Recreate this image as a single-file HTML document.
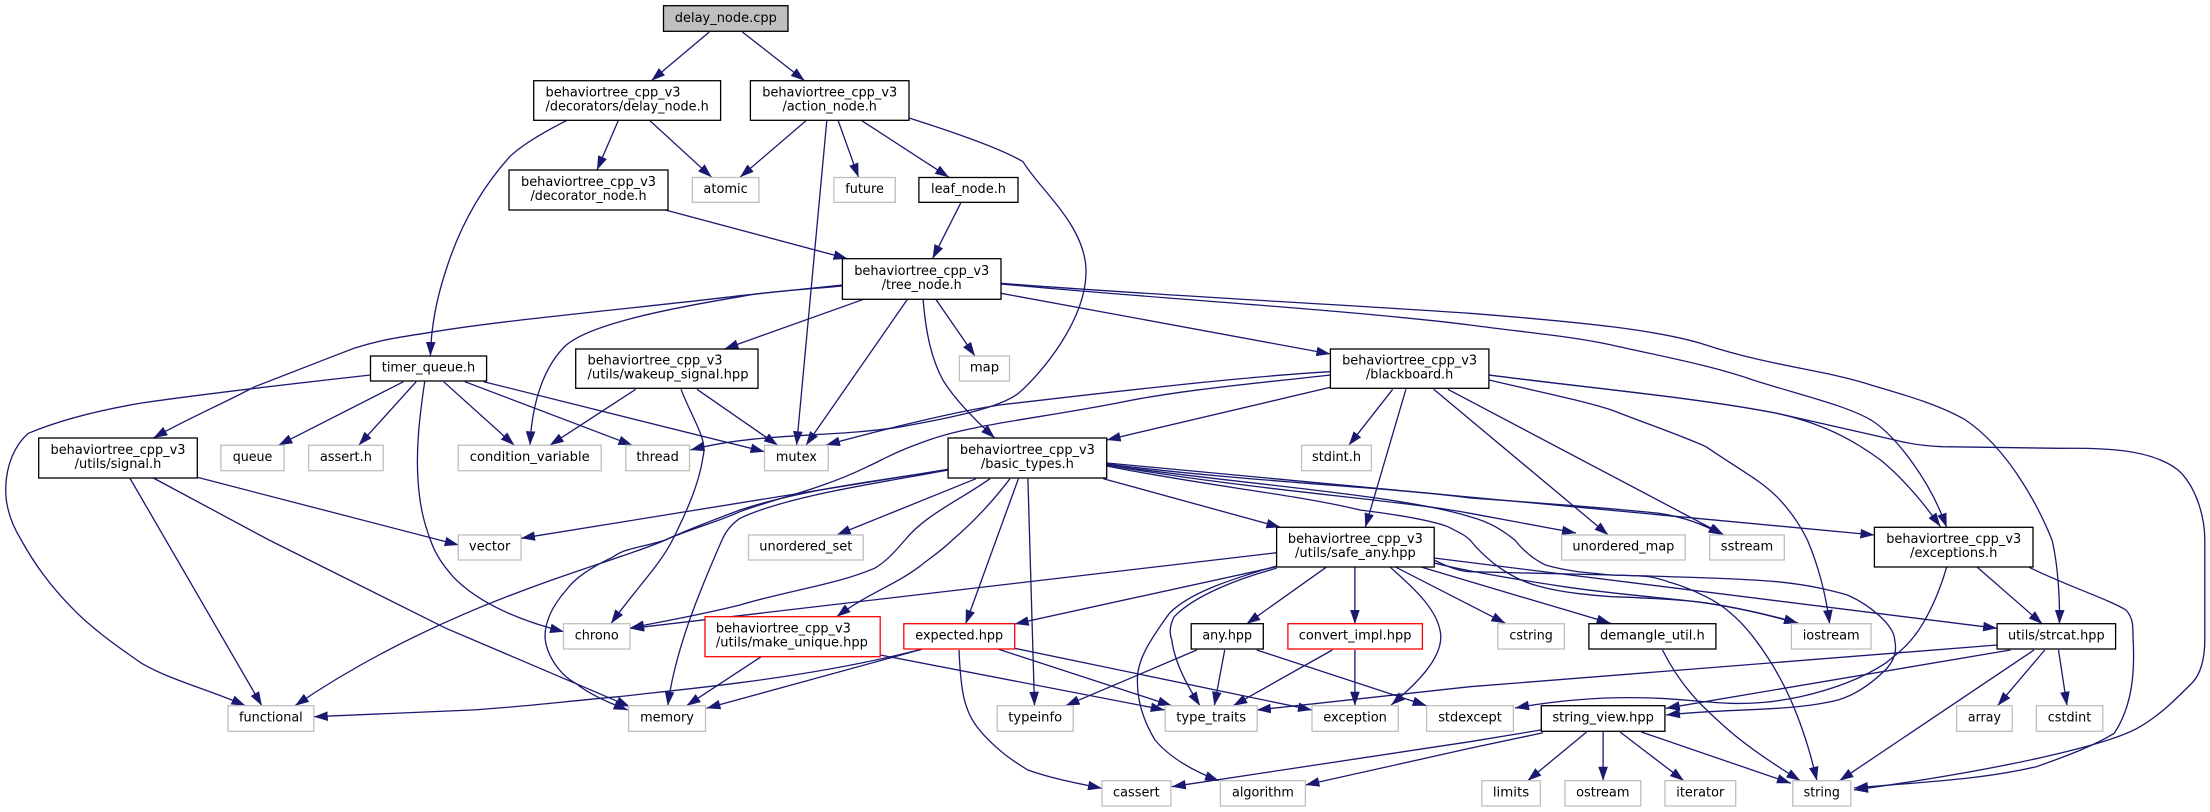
<!DOCTYPE html>
<html><head><meta charset="utf-8"><title>delay_node.cpp</title>
<style>
html,body{margin:0;padding:0;background:#fff}
svg{display:block}
text{font-family:"DejaVu Sans","Liberation Sans",sans-serif;font-size:13px;fill:#000;text-anchor:middle}
text.s{text-anchor:start}
.e path{fill:none;stroke:#191970;stroke-width:1.3;marker-end:url(#a)}
rect{fill:#fff;stroke-width:1.3}
.k rect{stroke:#000}
.g rect{stroke:#bfbfbf}
.r rect{stroke:#f00}
</style></head><body>
<svg width="2210" height="812" viewBox="0 0 2210 812" xmlns="http://www.w3.org/2000/svg">
<defs><marker id="a" markerUnits="userSpaceOnUse" markerWidth="14" markerHeight="10" viewBox="0 0 14 10" refX="14" refY="5" orient="auto"><path d="M0,0.2L14,5L0,9.8z" fill="#191970"/></marker></defs>
<g class="e">
<path d="M709.3,32L651.3,80.7"/>
<path d="M742.4,32L804.7,80.7"/>
<path d="M566.3,120.7C540,134 522,145 509.7,156.7C478,192 458,232 446,270C436,300 431,330 430.4,356"/>
<path d="M618.2,120.7L597,170"/>
<path d="M649.9,120.7L711.7,177.3"/>
<path d="M806,120.7L740,177.3"/>
<path d="M826.8,120.7L796.6,445.3"/>
<path d="M838.2,120.7L858.5,177.3"/>
<path d="M861.8,120.7L949,177.3"/>
<path d="M909,118C950,131 1000,148 1023,161.7C1040,190 1085,225 1086,270C1087,320 1040,375 1018.4,393.3C1000,408 950,418 900,427C830,438 760,432 690.4,450"/>
<path d="M960.9,202.7L932.5,258.7"/>
<path d="M665.4,210L847.6,258.7"/>
<path d="M842.4,285L740,295.7C640,308 500,320 424.7,333.3C400,337 380,340 354,348.3C310,365 260,385 254.8,386.7C220,405 185,420 153.4,438"/>
<path d="M842.4,286C800,290 770,291 740,296.7C660,310 590,325 566.3,345C545,365 532,400 530,445.3"/>
<path d="M863.6,299.3L724.4,349"/>
<path d="M907.5,299.3L806,445.3"/>
<path d="M923.1,299.3C926,335 932,360 942.9,380C955,400 975,420 994.8,438"/>
<path d="M935.8,299.3L975,356"/>
<path d="M1001,293.3L1330.4,354"/>
<path d="M1001,283.3C1150,295 1350,305 1470,313.3C1580,322 1660,330 1706,345C1770,366 1825,370 1871,385C1905,395 1940,405 1965.5,420C2010,450 2040,510 2052,540C2058,565 2060,600 2059.4,624"/>
<path d="M1001,284C1150,298 1350,310 1470,325C1530,333 1570,336 1611.6,345C1660,356 1710,365 1753,380C1800,395 1845,405 1871,420C1895,435 1930,480 1946.6,527.3"/>
<path d="M1489,375C1580,387 1700,398 1776.8,413.3C1830,425 1860,445 1880.6,460C1905,480 1925,505 1940.5,526.7"/>
<path d="M1489,375C1580,387 1700,398 1776.8,413.3C1820,423 1860,432 1894.7,440C1910,444 1925,446 1942,446.7L2060,448.3C2100,448 2150,448 2178,470C2195,485 2204.8,515 2204.8,540L2204.8,640C2204.8,660 2200,675 2192,683C2175,700 2160,715 2140,726.7C2110,745 2000,770 1854,790"/>
<path d="M1489,380C1540,392 1580,400 1611.6,410C1650,425 1680,435 1706,446.7C1740,470 1760,480 1776.8,496.7C1790,510 1800,525 1807.4,540C1818,565 1826,595 1829.6,624"/>
<path d="M1447.9,389.3L1724,535"/>
<path d="M1433.7,389.3L1608.3,535"/>
<path d="M1392.7,389.3L1348.8,445.3"/>
<path d="M1405.9,389.3L1365.3,527.3"/>
<path d="M1330.4,387.3L1106.7,440"/>
<path d="M1330.4,371.7C1250,376 1110,392 999.6,405C960,411 900,425 826,445"/>
<path d="M1330.4,375C1250,384 1180,390 1117.5,403C1040,418 970,425 928.8,440C895,452 890,456 867.4,466.7C820,490 770,500 740,511.7C715,523 690,529 665.4,540C640,548 625,548 613.5,556.7C590,568 575,578 566.3,590C553,605 545,620 545,636.7C546,655 560,675 575.7,683.3C590,695 610,703 627.7,710"/>
<path d="M948.1,469.3L521,538.3"/>
<path d="M948.1,470C880,480 800,490 740,510C700,525 680,533 665.4,540C610,565 450,600 295,705.7"/>
<path d="M948.1,470C880,483 790,495 740,518.3C730,525 725,533 722,540C700,590 675,650 667.8,705.7"/>
<path d="M990,478.7C960,500 925,515 905,540C892,555 885,562 874.5,568.3C835,585 790,590 740,605C700,615 670,620 630,628"/>
<path d="M1276.6,552.7L630,628.5"/>
<path d="M1010,478.7C990,505 970,525 952.4,540C940,552 930,558 919.3,566.7C895,585 865,595 836.7,616.7"/>
<path d="M1018.4,478.7L965.6,624"/>
<path d="M1027.9,478.7L1034.5,705.7"/>
<path d="M976,478.7L836.7,535"/>
<path d="M1106.7,463L1874.4,535"/>
<path d="M1106.7,464C1250,482 1400,488 1470,498C1540,503 1620,509 1658.8,513.3C1685,517 1705,525 1722.5,535"/>
<path d="M1106.7,465C1250,490 1400,500 1470,513.3L1576,533"/>
<path d="M1103.4,478.7L1280.4,527.3"/>
<path d="M1106.7,465C1250,485 1400,495 1470,516.7C1490,522 1502,530 1514.8,540C1525,553 1535,560 1545.5,565C1570,572 1590,573 1611.6,575C1640,576 1650,575 1668,581.7C1680,585 1693,590 1706,596.7C1725,606 1740,620 1753,636.7C1775,665 1790,695 1800,723C1808,745 1812,760 1816.9,780.7"/>
<path d="M1106.7,466C1200,485 1300,495 1360,510C1400,515 1430,520 1447.9,526.7C1460,533 1465,535 1470,540C1478,550 1485,556 1493.6,563.3C1510,576 1525,583 1540.8,586.7C1565,593 1590,595 1611.6,596.7C1650,598 1680,600 1696.5,601.7C1730,606 1765,614 1798,623.3"/>
<path d="M1434,560C1450,568 1460,571 1470,571.7L1611.6,575C1680,577 1730,578 1776.8,581.7C1810,585 1830,590 1847.5,595C1870,605 1894,625 1894.7,640C1897,650 1895,660 1885.3,670C1870,685 1855,695 1838,700C1790,712 1730,708 1666,715"/>
<path d="M1434,563C1470,572 1520,580 1564,586.7C1620,595 1670,598 1706,603C1740,608 1770,615 1798,623"/>
<path d="M1434,558L1997.1,628.3"/>
<path d="M1421.9,567.3L1610.6,623.3"/>
<path d="M1396,567.3L1505.4,623.3"/>
<path d="M1390.3,567.3C1410,585 1440,610 1440.8,636.7C1441,660 1415,685 1391.2,705"/>
<path d="M1354.9,567.3L1354.9,624"/>
<path d="M1326.1,567.3L1246.4,624"/>
<path d="M1276.6,566.7L1014.7,624"/>
<path d="M1276.6,568.3C1240,578 1195,595 1174.2,616.7C1170,625 1169,632 1171.8,640C1175,665 1190,690 1200,705.7"/>
<path d="M1276.6,566C1235,578 1190,592 1169.4,613.3C1150,640 1137,660 1137.4,680C1137,700 1143,720 1155,740C1170,758 1195,772 1219,780.7"/>
<path d="M1196.8,650L1065.6,705.7"/>
<path d="M1224.7,650L1214.3,705.7"/>
<path d="M1256.8,650L1426.6,705.7"/>
<path d="M1332.3,650L1233.2,705.7"/>
<path d="M1354.9,650L1354.9,705.7"/>
<path d="M998.6,649.3L1171.8,705.7"/>
<path d="M1014.7,648.3L1312,710"/>
<path d="M959,650C960,675 962,695 966.5,706.7C970,718 977,728 985.4,736.7C1000,752 1013,761 1027.9,770C1050,778 1075,783 1102,788.3"/>
<path d="M921.7,649.3C860,665 800,675 740,682.7C700,688 660,692 618.2,696.7C560,702 520,707 471.9,710C410,713 360,715 313.8,716.7"/>
<path d="M921.7,649.3L706.5,708.3"/>
<path d="M761.2,656.7L686.6,705.7"/>
<path d="M880.2,655L1164.7,710"/>
<path d="M129.8,478L261.9,705.7"/>
<path d="M153.4,478L269,540L446,628.3L630,706.7"/>
<path d="M197.3,477.3L458.7,545"/>
<path d="M370.5,375C290,384 190,396 141.6,403C100,410 60,420 28.3,433.3C15,445 5.7,465 5.7,490C5.7,508 12,525 21.2,540C35,565 50,585 70.8,606.7C90,627 115,645 141.6,663.3C170,680 210,690 245.4,705.7"/>
<path d="M403.5,381.7L278.4,445.3"/>
<path d="M416.2,381.7L358.7,445.3"/>
<path d="M424.7,381.7C419,420 416,450 418,480C420,510 425,525 430.4,540C436,556 444,566 453,576.7C480,605 525,622 564,631.7"/>
<path d="M443.6,381.7L514.4,445.3"/>
<path d="M464.8,381.7L632.4,445.3"/>
<path d="M483.7,381.7L764.5,451.7"/>
<path d="M635.7,389.3L549.8,445.3"/>
<path d="M681,389.3C693,420 708,440 703,456.7C699,485 685,515 672.5,540C660,565 635,590 611,623.5"/>
<path d="M697,389.3L777.8,445.3"/>
<path d="M1977.3,567.3L2042.4,624"/>
<path d="M1946.6,567.3C1940,590 1932,608 1923,623.3C1912,642 1900,652 1885.3,663.3C1860,680 1830,690 1800.3,696.7C1775,702 1755,704 1729.6,703.3C1700,702 1680,699 1658.8,698.3C1610,696 1565,699 1515,708"/>
<path d="M2029.2,567.3C2065,585 2110,600 2126,610C2133,618 2133,625 2133,636.7C2135,670 2133,705 2114.2,733.3C2095,745 2070,755 2036.3,766.7C1980,780 1920,782 1854,788"/>
<path d="M1997.1,645L1470,686.7L1256.8,710"/>
<path d="M2010.4,650L1665.8,708.3"/>
<path d="M2034,650L1839.5,780.7"/>
<path d="M2044.8,650L1997.6,705.7"/>
<path d="M2058.5,650L2067,705.7"/>
<path d="M1662.5,650C1680,685 1700,705 1724.8,726.7C1745,745 1775,765 1800.3,780.7"/>
<path d="M1540.8,730L1470,741.7L1171.8,786.7"/>
<path d="M1543.1,732.7L1470,748.3L1305.4,785"/>
<path d="M1586.6,732L1527.6,780.7"/>
<path d="M1603.1,732L1603.1,780.7"/>
<path d="M1620.1,732L1683.8,780.7"/>
<path d="M1641.3,732L1790.9,783.3"/>
</g>
<g class="k">
<rect x="663.5" y="5.7" width="124.5" height="25.6" style="fill:#bfbfbf"/><text x="725.8" y="21.8" textLength="102" lengthAdjust="spacingAndGlyphs">delay_node.cpp</text>
<rect x="533.7" y="80.7" width="186.9" height="39.6"/><text class="s" x="545.5" y="96.5" textLength="135" lengthAdjust="spacingAndGlyphs">behaviortree_cpp_v3</text><text class="s" x="545.5" y="110.5" textLength="163.3" lengthAdjust="spacingAndGlyphs">/decorators/delay_node.h</text>
<rect x="750.4" y="80.7" width="158.6" height="39.6"/><text x="829.7" y="96.5" textLength="135" lengthAdjust="spacingAndGlyphs">behaviortree_cpp_v3</text><text x="829.7" y="110.5" textLength="94.4" lengthAdjust="spacingAndGlyphs">/action_node.h</text>
<rect x="509" y="170" width="159" height="40"/><text x="588.5" y="186" textLength="135" lengthAdjust="spacingAndGlyphs">behaviortree_cpp_v3</text><text x="588.5" y="200" textLength="116" lengthAdjust="spacingAndGlyphs">/decorator_node.h</text>
<rect x="918.9" y="177.5" width="99.1" height="24.8"/><text x="968.5" y="193" textLength="75" lengthAdjust="spacingAndGlyphs">leaf_node.h</text>
<rect x="842.4" y="258.7" width="158.6" height="40.6"/><text x="921.7" y="275" textLength="135" lengthAdjust="spacingAndGlyphs">behaviortree_cpp_v3</text><text x="921.7" y="289" textLength="80" lengthAdjust="spacingAndGlyphs">/tree_node.h</text>
<rect x="370.5" y="356" width="116.1" height="25"/><text x="428.5" y="371.5" textLength="93.4" lengthAdjust="spacingAndGlyphs">timer_queue.h</text>
<rect x="575.7" y="349" width="182.3" height="39.3"/><text class="s" x="587.5" y="364.5" textLength="135" lengthAdjust="spacingAndGlyphs">behaviortree_cpp_v3</text><text class="s" x="587.5" y="378.5" textLength="161" lengthAdjust="spacingAndGlyphs">/utils/wakeup_signal.hpp</text>
<rect x="1330.4" y="349" width="158.5" height="39.3"/><text x="1409.6" y="364.5" textLength="135" lengthAdjust="spacingAndGlyphs">behaviortree_cpp_v3</text><text x="1409.6" y="378.5" textLength="87.3" lengthAdjust="spacingAndGlyphs">/blackboard.h</text>
<rect x="38.7" y="438" width="158.6" height="40"/><text x="118" y="454" textLength="135" lengthAdjust="spacingAndGlyphs">behaviortree_cpp_v3</text><text x="118" y="468" textLength="86.8" lengthAdjust="spacingAndGlyphs">/utils/signal.h</text>
<rect x="948.1" y="438" width="158.6" height="40"/><text x="1027.4" y="454" textLength="135" lengthAdjust="spacingAndGlyphs">behaviortree_cpp_v3</text><text x="1027.4" y="468" textLength="93" lengthAdjust="spacingAndGlyphs">/basic_types.h</text>
<rect x="1276.6" y="527.3" width="157.6" height="39.7"/><text x="1355.4" y="543" textLength="135" lengthAdjust="spacingAndGlyphs">behaviortree_cpp_v3</text><text x="1355.4" y="557" textLength="120.8" lengthAdjust="spacingAndGlyphs">/utils/safe_any.hpp</text>
<rect x="1874.4" y="527.3" width="158.6" height="39.7"/><text x="1953.7" y="543" textLength="135" lengthAdjust="spacingAndGlyphs">behaviortree_cpp_v3</text><text x="1953.7" y="557" textLength="87.3" lengthAdjust="spacingAndGlyphs">/exceptions.h</text>
<rect x="1191.2" y="623.7" width="72.1" height="25.3"/><text x="1227.2" y="639.5" textLength="49.6" lengthAdjust="spacingAndGlyphs">any.hpp</text>
<rect x="1588.9" y="623.7" width="127" height="25.3"/><text x="1652.4" y="639.5" textLength="104.8" lengthAdjust="spacingAndGlyphs">demangle_util.h</text>
<rect x="1997.1" y="623.7" width="118.5" height="25.3"/><text x="2056.3" y="639.5" textLength="96.7" lengthAdjust="spacingAndGlyphs">utils/strcat.hpp</text>
<rect x="1541.3" y="705.7" width="123.6" height="25.6"/><text x="1603.1" y="721.5" textLength="101.5" lengthAdjust="spacingAndGlyphs">string_view.hpp</text>
</g>
<g class="r">
<rect x="705" y="616.7" width="175.2" height="40"/><text class="s" x="715.9" y="632.5" textLength="135" lengthAdjust="spacingAndGlyphs">behaviortree_cpp_v3</text><text class="s" x="715.9" y="646.5" textLength="152" lengthAdjust="spacingAndGlyphs">/utils/make_unique.hpp</text>
<rect x="903.8" y="623.7" width="110.9" height="25.3"/><text x="959.2" y="639.5" textLength="87.8" lengthAdjust="spacingAndGlyphs">expected.hpp</text>
<rect x="1287.9" y="623.7" width="134.5" height="25.3"/><text x="1355.1" y="639.5" textLength="112.8" lengthAdjust="spacingAndGlyphs">convert_impl.hpp</text>
</g>
<g class="g">
<rect x="692.3" y="177.5" width="66.6" height="24.8"/><text x="725.6" y="193" textLength="44.4" lengthAdjust="spacingAndGlyphs">atomic</text>
<rect x="833.9" y="177.5" width="61.4" height="24.8"/><text x="864.6" y="193" textLength="38.7" lengthAdjust="spacingAndGlyphs">future</text>
<rect x="959.4" y="356" width="50.1" height="25"/><text x="984.5" y="371.5" textLength="29.3" lengthAdjust="spacingAndGlyphs">map</text>
<rect x="220.9" y="445.3" width="63.2" height="25.4"/><text x="252.5" y="461" textLength="39.6" lengthAdjust="spacingAndGlyphs">queue</text>
<rect x="308.6" y="445.3" width="74.6" height="25.4"/><text x="345.9" y="461" textLength="52" lengthAdjust="spacingAndGlyphs">assert.h</text>
<rect x="458.2" y="445.3" width="143" height="25.4"/><text x="529.7" y="461" textLength="119.9" lengthAdjust="spacingAndGlyphs">condition_variable</text>
<rect x="625.8" y="445.3" width="63.7" height="25.4"/><text x="657.6" y="461" textLength="42.5" lengthAdjust="spacingAndGlyphs">thread</text>
<rect x="764.5" y="445.3" width="63.7" height="25.4"/><text x="796.4" y="461" textLength="41" lengthAdjust="spacingAndGlyphs">mutex</text>
<rect x="1301.6" y="445.3" width="69.8" height="25.4"/><text x="1336.5" y="461" textLength="49" lengthAdjust="spacingAndGlyphs">stdint.h</text>
<rect x="458.2" y="535" width="62.8" height="25"/><text x="489.6" y="550.5" textLength="41.5" lengthAdjust="spacingAndGlyphs">vector</text>
<rect x="748.5" y="535" width="114.7" height="25"/><text x="805.8" y="550.5" textLength="93" lengthAdjust="spacingAndGlyphs">unordered_set</text>
<rect x="1561.6" y="535" width="123.6" height="25"/><text x="1623.4" y="550.5" textLength="102" lengthAdjust="spacingAndGlyphs">unordered_map</text>
<rect x="1709.7" y="535" width="74.6" height="25"/><text x="1747" y="550.5" textLength="52.4" lengthAdjust="spacingAndGlyphs">sstream</text>
<rect x="563.5" y="623.7" width="66.5" height="25.3"/><text x="596.7" y="639.5" textLength="43.9" lengthAdjust="spacingAndGlyphs">chrono</text>
<rect x="1497.8" y="623.7" width="66.6" height="25.3"/><text x="1531.1" y="639.5" textLength="43.4" lengthAdjust="spacingAndGlyphs">cstring</text>
<rect x="1791.4" y="623.7" width="79.7" height="25.3"/><text x="1831.2" y="639.5" textLength="57" lengthAdjust="spacingAndGlyphs">iostream</text>
<rect x="228" y="705.7" width="85.8" height="25.6"/><text x="270.9" y="721.5" textLength="63.7" lengthAdjust="spacingAndGlyphs">functional</text>
<rect x="628.6" y="705.7" width="76.9" height="25.6"/><text x="667" y="721.5" textLength="53.8" lengthAdjust="spacingAndGlyphs">memory</text>
<rect x="997.2" y="705.7" width="76" height="25.6"/><text x="1035.2" y="721.5" textLength="53.8" lengthAdjust="spacingAndGlyphs">typeinfo</text>
<rect x="1165.2" y="705.7" width="92" height="25.6"/><text x="1211.2" y="721.5" textLength="69.8" lengthAdjust="spacingAndGlyphs">type_traits</text>
<rect x="1312" y="705.7" width="86.3" height="25.6"/><text x="1355.1" y="721.5" textLength="63.7" lengthAdjust="spacingAndGlyphs">exception</text>
<rect x="1426.6" y="705.7" width="86.8" height="25.6"/><text x="1470" y="721.5" textLength="63.6" lengthAdjust="spacingAndGlyphs">stdexcept</text>
<rect x="1956.6" y="705.7" width="55.6" height="25.6"/><text x="1984.4" y="721.5" textLength="33" lengthAdjust="spacingAndGlyphs">array</text>
<rect x="2036.3" y="705.7" width="66.5" height="25.6"/><text x="2069.5" y="721.5" textLength="43.4" lengthAdjust="spacingAndGlyphs">cstdint</text>
<rect x="1102" y="780.7" width="68.9" height="25.3"/><text x="1136.4" y="796.5" textLength="46.7" lengthAdjust="spacingAndGlyphs">cassert</text>
<rect x="1220.4" y="780.7" width="85" height="25.3"/><text x="1262.9" y="796.5" textLength="61.8" lengthAdjust="spacingAndGlyphs">algorithm</text>
<rect x="1481.8" y="780.7" width="58.5" height="25.3"/><text x="1511" y="796.5" textLength="36.3" lengthAdjust="spacingAndGlyphs">limits</text>
<rect x="1564.9" y="780.7" width="75.9" height="25.3"/><text x="1602.8" y="796.5" textLength="53.3" lengthAdjust="spacingAndGlyphs">ostream</text>
<rect x="1664.9" y="780.7" width="70.8" height="25.3"/><text x="1700.3" y="796.5" textLength="48" lengthAdjust="spacingAndGlyphs">iterator</text>
<rect x="1792.8" y="780.7" width="58" height="25.3"/><text x="1821.8" y="796.5" textLength="36.3" lengthAdjust="spacingAndGlyphs">string</text>
</g>
</svg>
</body></html>
